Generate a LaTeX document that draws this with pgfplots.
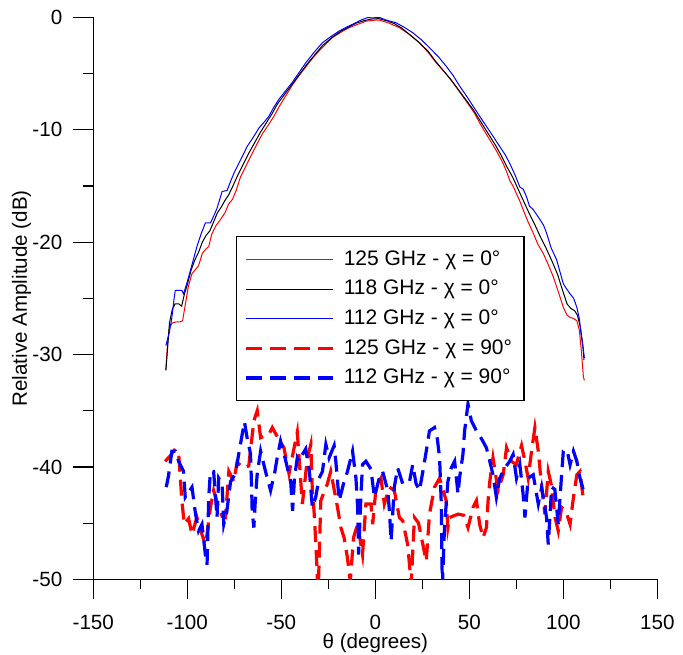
\documentclass[border=0pt]{standalone}
\usepackage{fontspec}
\setmainfont{Liberation Sans}
\usepackage{pgfplots}
\pgfplotsset{compat=1.18}

\begin{document}
\begin{tikzpicture}
\useasboundingbox (-46.65pt,-37.35pt) rectangle (294.85pt,289.65pt);
\begin{axis}[
    scale only axis,
    width=282pt, height=281pt,
    xmin=-150, xmax=150, ymin=-50, ymax=0,
    xtick={-150,-100,...,150}, ytick={-50,-40,...,0},
    minor x tick num=1, minor y tick num=1,
    axis x line*=bottom, axis y line*=left,
    every outer x axis line/.append style={-},
    every outer y axis line/.append style={-},
    axis line style={line width=0.6pt},
    tick align=outside,
    major tick length=10pt, minor tick length=5pt,
    tick style={black, line width=0.6pt},
    /pgf/number format/assume math mode=true,
    ticklabel style={font=\fontsize{10.3}{12}\selectfont},
    xticklabel style={yshift=-4.3pt},
    yticklabel style={xshift=-2pt},
    label style={font=\fontsize{10.3}{12}\selectfont},
    xlabel={θ (degrees)}, ylabel={Relative Amplitude (dB)},
    xlabel style={at={(axis description cs:0.5,-0.113)}, anchor=center},
    ylabel style={at={(axis description cs:-0.127,0.5)}, anchor=center},
    legend style={at={(0.253,0.611)}, anchor=north west, draw=black, line width=0.6pt,
        font=\fontsize{10.5}{13}\selectfont, row sep=2pt, inner xsep=4pt, inner ysep=5pt},
    legend cell align=left,
    legend image code/.code={\draw[#1] (0pt,0pt) -- (43.5pt,0pt); \path (46pt,0pt);},
]
% 125 GHz, chi = 0
\addplot[red, line width=0.5pt] table {
-111.4 -31.4
-110.5 -29.0
-109.5 -27.6
-108.0 -27.2
-106.0 -27.1
-104.0 -27.1
-102.5 -27.0
-101.0 -25.5
-99.5 -24.0
-97.5 -22.8
-95.5 -22.4
-94.0 -22.1
-92.0 -21.0
-90.0 -20.6
-88.6 -20.4
-87.0 -19.3
-85.0 -18.6
-82.4 -18.0
-80.0 -17.4
-78.0 -16.6
-76.0 -16.2
-74.0 -15.4
-71.7 -14.2
-69.0 -13.3
-66.4 -12.4
-63.0 -11.3
-60.2 -10.4
-57.0 -9.6
-53.9 -8.8
-51.0 -7.9
-47.7 -7.0
-44.0 -6.0
-40.6 -5.2
-36.0 -4.2
-31.7 -3.3
-27.0 -2.5
-22.8 -1.8
-18.0 -1.3
-13.9 -0.92
-9.0 -0.6
-5.0 -0.35
0.0 -0.25
2.1 -0.24
7.0 -0.5
12.8 -0.92
18.0 -1.5
23.5 -2.26
28.0 -3.1
32.4 -4.05
37.0 -4.9
41.3 -5.8
46.0 -6.9
50.2 -7.9
53.0 -8.6
55.5 -9.4
58.0 -10.1
60.9 -10.9
64.5 -11.9
68.0 -13.0
70.0 -13.8
71.5 -14.5
73.5 -15.1
75.1 -15.7
77.0 -16.4
78.6 -17.1
81.0 -18.1
84.0 -19.2
86.5 -20.2
89.3 -21.0
92.0 -22.0
94.7 -23.1
97.5 -24.5
100.0 -25.8
102.0 -26.5
103.6 -26.7
105.5 -26.8
107.2 -27.0
108.5 -27.8
109.5 -29.5
110.7 -32.0
111.2 -32.3
};
\addlegendentry{125 GHz - χ = 0°}
% 118 GHz, chi = 0
\addplot[black, line width=0.5pt] table {
-111.4 -31.4
-110.5 -29.5
-109.5 -27.2
-108.0 -26.0
-106.5 -25.5
-104.5 -25.5
-103.0 -25.7
-101.5 -24.6
-100.0 -23.8
-98.0 -22.5
-96.0 -21.6
-94.0 -20.9
-92.0 -20.0
-90.0 -19.4
-88.0 -19.0
-86.0 -18.2
-84.0 -17.4
-82.0 -16.9
-80.0 -16.3
-78.0 -15.8
-76.0 -15.1
-73.0 -14.0
-70.0 -13.0
-67.0 -12.0
-64.0 -11.1
-61.0 -10.2
-58.0 -9.4
-55.0 -8.6
-52.0 -7.7
-48.0 -6.8
-44.0 -5.9
-40.0 -5.0
-36.0 -4.1
-32.0 -3.3
-28.0 -2.5
-23.0 -1.8
-18.0 -1.2
-14.0 -0.85
-10.0 -0.5
-6.0 -0.3
-2.0 -0.15
2.0 -0.12
6.0 -0.3
10.0 -0.55
14.0 -0.95
18.0 -1.5
23.0 -2.2
28.0 -3.0
32.0 -3.9
36.0 -4.7
40.0 -5.5
44.0 -6.4
48.0 -7.3
52.0 -8.2
55.0 -9.0
58.0 -9.8
61.0 -10.6
64.0 -11.4
67.0 -12.3
70.0 -13.3
73.0 -14.2
76.0 -15.3
79.0 -16.4
82.0 -17.5
85.0 -18.5
88.0 -19.6
91.0 -20.6
94.0 -21.7
97.0 -22.9
100.0 -24.5
102.0 -25.5
104.0 -25.9
106.0 -26.1
107.5 -26.5
109.0 -27.5
110.3 -29.0
111.0 -30.5
};
\addlegendentry{118 GHz - χ = 0°}
% 112 GHz, chi = 0
\addplot[blue, line width=0.5pt] table {
-111.4 -29.2
-109.5 -28.0
-108.2 -26.7
-107.0 -25.0
-106.4 -24.3
-104.5 -24.3
-102.9 -24.3
-102.0 -24.6
-100.5 -23.8
-99.3 -23.1
-97.0 -21.7
-94.9 -20.4
-92.5 -19.2
-90.4 -18.3
-87.7 -18.3
-86.0 -17.7
-84.2 -17.0
-81.5 -15.5
-78.8 -15.4
-77.0 -14.6
-75.0 -13.8
-72.6 -13.0
-70.5 -12.3
-68.2 -11.5
-65.0 -10.7
-61.9 -9.85
-59.0 -9.3
-56.6 -8.8
-54.0 -8.0
-51.3 -7.3
-48.0 -6.6
-44.2 -5.8
-40.5 -4.9
-37.0 -4.05
-32.5 -3.1
-28.1 -2.26
-23.5 -1.7
-19.2 -1.22
-15.0 -0.85
-10.3 -0.48
-7.0 -0.2
-4.1 -0.03
-1.0 -0.05
2.1 0.0
5.0 -0.2
7.5 -0.33
11.0 -0.48
15.5 -0.9
19.9 -1.37
24.5 -2.0
28.8 -2.7
33.5 -3.5
37.7 -4.35
41.5 -5.2
44.8 -6.1
48.5 -7.0
52.0 -7.9
55.5 -8.8
59.1 -9.7
62.7 -10.6
66.2 -11.5
69.0 -12.2
71.5 -13.0
74.0 -13.9
76.9 -15.1
78.7 -15.3
80.5 -16.0
82.0 -16.8
84.0 -17.1
86.0 -17.6
87.6 -18.0
89.5 -18.5
91.1 -19.2
93.5 -20.5
96.5 -21.6
98.5 -22.8
100.0 -23.7
101.5 -24.1
103.6 -24.6
105.5 -25.0
107.2 -25.8
108.5 -26.8
109.7 -28.5
110.7 -29.6
111.2 -30.3
};
\addlegendentry{112 GHz - χ = 0°}
% 125 GHz, chi = 90
\addplot[red, line width=1.6pt, dash pattern=on 8pt off 4pt] table {
-111.8 -39.5
-109.0 -39.0
-106.4 -38.4
-104.6 -38.8
-103.7 -41.0
-102.9 -43.0
-101.6 -45.1
-99.3 -44.6
-97.5 -46.0
-94.9 -44.5
-92.2 -46.0
-90.4 -46.9
-89.5 -46.0
-87.7 -43.6
-86.0 -42.1
-83.5 -43.5
-81.5 -44.4
-79.7 -44.5
-77.9 -40.4
-75.3 -41.3
-73.5 -39.6
-70.0 -40.1
-67.3 -39.9
-64.6 -35.9
-62.8 -35.0
-61.0 -37.4
-56.6 -37.1
-54.8 -36.5
-51.5 -37.5
-48.6 -38.3
-45.9 -40.6
-43.2 -38.3
-41.5 -36.9
-38.8 -43.3
-36.1 -39.2
-34.3 -38.0
-33.5 -42.1
-32.6 -43.9
-31.7 -46.6
-31.1 -48.7
-30.5 -52.0
-29.5 -46.0
-29.0 -43.0
-25.5 -41.5
-23.7 -40.4
-20.1 -43.6
-18.3 -45.4
-16.6 -46.3
-14.8 -48.1
-13.3 -50.2
-11.6 -46.3
-9.4 -45.1
-6.8 -47.8
-5.0 -43.3
-2.3 -43.3
-1.4 -45.1
0.4 -41.8
3.0 -41.0
4.8 -43.3
7.5 -41.8
10.1 -42.1
12.8 -44.5
14.6 -44.8
17.2 -46.9
19.1 -50.4
20.8 -44.5
23.0 -45.0
25.3 -46.9
27.1 -48.4
28.8 -44.2
31.5 -41.8
34.2 -41.0
37.7 -43.0
38.6 -45.4
39.5 -44.5
44.0 -44.2
47.0 -44.3
49.3 -45.4
52.0 -43.6
53.8 -43.0
55.5 -45.1
57.3 -46.3
59.1 -45.4
60.0 -43.0
60.9 -41.3
62.6 -39.2
65.3 -42.1
68.0 -40.7
69.8 -38.3
72.4 -39.5
75.0 -39.8
77.8 -38.1
79.6 -39.5
81.3 -41.0
83.1 -38.6
84.9 -36.5
86.7 -38.6
88.5 -41.8
90.2 -44.2
92.0 -40.4
93.5 -41.5
95.6 -44.5
97.3 -45.7
99.1 -43.6
101.5 -44.0
103.6 -45.1
105.4 -42.7
107.2 -40.7
108.9 -40.4
110.7 -43.0
};
\addlegendentry{125 GHz - χ = 90°}
% 112 GHz, chi = 90
\addplot[blue, line width=1.6pt, dash pattern=on 8pt off 4pt] table {
-111.2 -41.8
-110.0 -40.8
-108.2 -38.6
-106.4 -38.6
-104.6 -39.5
-102.0 -40.4
-101.1 -42.7
-97.5 -41.8
-95.7 -44.1
-94.0 -45.7
-92.2 -45.1
-90.4 -47.8
-89.5 -48.7
-88.6 -42.7
-87.7 -40.4
-86.0 -40.4
-85.1 -42.4
-84.2 -44.5
-83.3 -41.0
-81.5 -41.5
-80.6 -45.1
-79.0 -44.0
-77.0 -41.3
-74.4 -40.6
-72.6 -38.8
-70.8 -37.1
-69.6 -36.0
-68.2 -37.4
-66.4 -38.8
-65.8 -41.8
-65.5 -43.9
-64.6 -45.4
-63.7 -42.6
-62.8 -40.6
-61.0 -38.6
-58.4 -40.4
-55.7 -42.1
-53.5 -40.5
-52.2 -39.2
-50.4 -37.7
-48.6 -38.8
-45.0 -41.3
-44.0 -43.9
-43.0 -41.0
-41.5 -39.2
-40.6 -39.5
-38.8 -38.9
-37.0 -38.4
-35.0 -40.5
-33.5 -43.6
-31.7 -42.7
-29.9 -41.0
-28.1 -40.4
-26.3 -38.0
-24.6 -39.2
-21.9 -38.1
-21.0 -39.5
-20.1 -41.3
-19.2 -43.0
-16.6 -41.3
-14.8 -40.4
-12.1 -38.6
-10.3 -41.0
-9.4 -43.6
-9.1 -45.7
-8.9 -47.8
-7.6 -42.4
-6.8 -39.8
-5.0 -39.5
-2.3 -40.2
-0.5 -42.7
2.1 -41.0
3.9 -40.4
6.6 -42.1
7.5 -43.9
8.4 -46.6
10.1 -41.8
11.9 -40.1
14.6 -41.5
18.2 -41.3
19.9 -39.8
21.7 -41.5
23.5 -42.1
25.3 -40.4
27.1 -38.6
28.8 -36.8
31.5 -36.5
33.0 -37.5
34.2 -39.2
35.1 -43.3
35.4 -48.1
35.7 -50.5
36.8 -45.4
38.6 -41.3
40.4 -40.1
42.2 -39.5
44.0 -42.4
44.8 -41.0
46.6 -38.9
47.5 -36.8
49.3 -34.4
51.1 -35.9
53.8 -36.8
56.5 -37.5
59.1 -38.3
60.9 -39.5
62.6 -40.7
64.4 -42.7
66.2 -41.0
68.9 -40.1
71.5 -39.5
73.3 -38.9
75.1 -41.0
76.9 -39.8
78.6 -42.4
79.6 -44.5
81.3 -41.0
84.0 -40.7
86.7 -43.3
88.5 -41.8
91.1 -44.5
92.0 -46.9
93.8 -41.8
95.5 -42.0
97.3 -45.1
99.1 -40.7
100.0 -38.6
102.0 -38.5
103.6 -39.8
105.4 -38.6
107.2 -39.5
108.9 -41.0
110.7 -42.1
};
\addlegendentry{112 GHz - χ = 90°}
\end{axis}
\end{tikzpicture}
\end{document}
